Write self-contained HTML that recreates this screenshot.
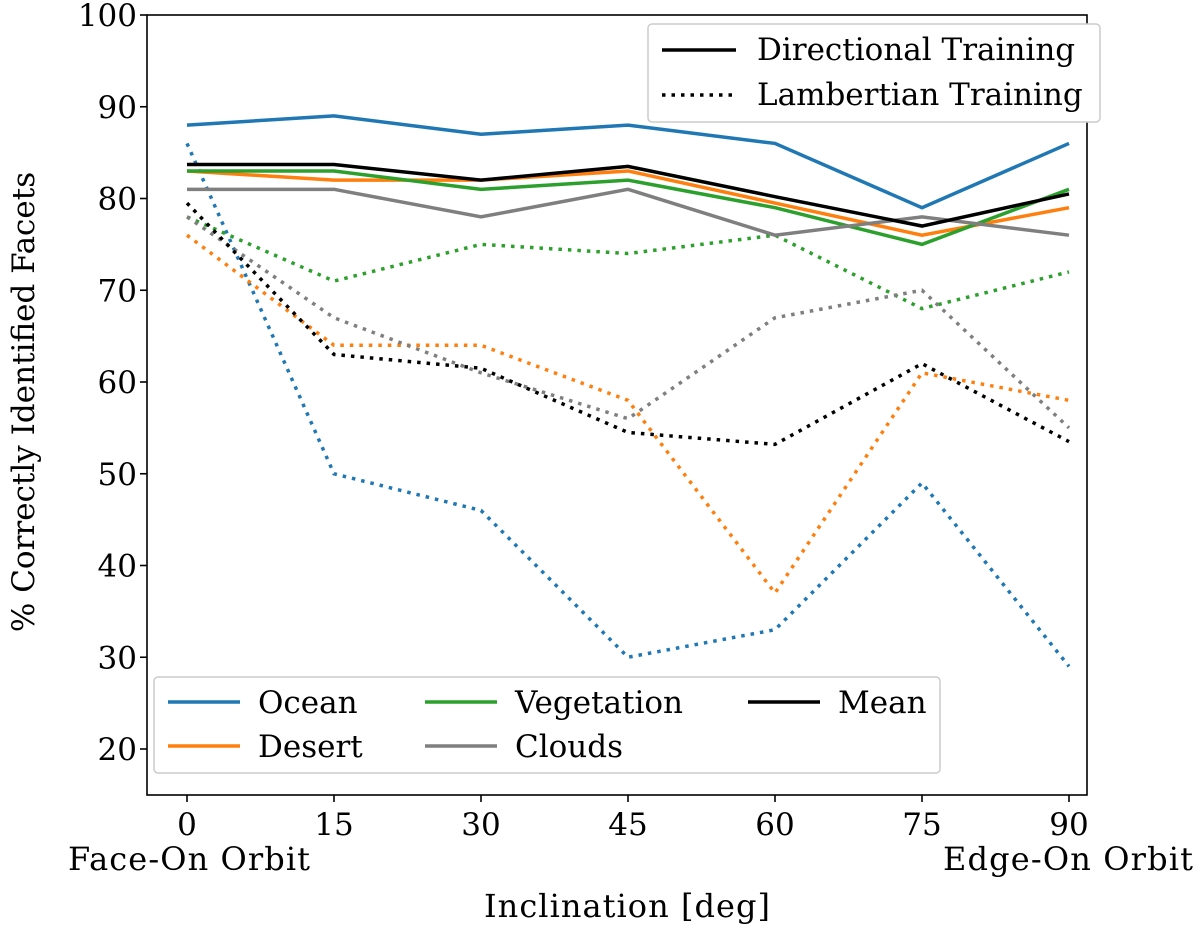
<!DOCTYPE html>
<html><head><meta charset="utf-8"><style>
body{margin:0;background:#fff}
svg text{font-family:"DejaVu Serif","Liberation Serif",serif;fill:#000}
</style></head><body>
<svg id="chart" width="1200" height="932" xmlns="http://www.w3.org/2000/svg">
<g id="marks"></g>
<g id="axes"></g>
</svg>
<script>
const xCats=[0,15,30,45,60,75,90];
const yTicks=[20,30,40,50,60,70,80,90,100];
const names=["Ocean","Desert","Vegetation","Clouds","Mean"];
const colors=["#1f77b4","#ff7f0e","#2ca02c","#7f7f7f","#000000"];
const oceanDir=[88,89,87,88,86,79,86];
const desertDir=[83,82,82,83,79.5,76,79];
const vegDir=[83,83,81,82,79,75,81];
const cloudsDir=[81,81,78,81,76,78,76];
const meanDir=[83.7,83.7,82,83.5,80.2,77,80.5];
const oceanLam=[86,50,46,30,33,49,29];
const desertLam=[76,64,64,58,37,61,58];
const vegLam=[78,71,75,74,76,68,72];
const cloudsLam=[78,67,61,56,67,70,55];
const meanLam=[79.5,63,61.5,54.5,53.2,62,53.5];

const NS="http://www.w3.org/2000/svg";
const L=147,R=1087,T=15,B=795;
const xs=v=>187+(v-0)*(1069-187)/90;
const ys=v=>15+(100-v)*(749-15)/80;
function mk(tag,attrs,parent){const e=document.createElementNS(NS,tag);for(const k in attrs)e.setAttribute(k,attrs[k]);parent.appendChild(e);return e;}
const marks=document.getElementById('marks'),axes=document.getElementById('axes');
const dirs=[oceanDir,desertDir,vegDir,cloudsDir,meanDir];
const lams=[oceanLam,desertLam,vegLam,cloudsLam,meanLam];
const FS=31;
lams.forEach((s,i)=>{
 const p=mk('polyline',{points:s.map((v,j)=>xs(xCats[j])+','+ys(v)).join(' '),fill:'none',stroke:colors[i],'stroke-width':3.5,'stroke-dasharray':'3.5,6'},marks);
 
 
});
dirs.forEach((s,i)=>{
 const p=mk('polyline',{points:s.map((v,j)=>xs(xCats[j])+','+ys(v)).join(' '),fill:'none',stroke:colors[i],'stroke-width':3.5},marks);
 
 
});
const fr=mk('rect',{x:L,y:T,width:R-L,height:B-T,fill:'none',stroke:'#000','stroke-width':1.6},axes);


xCats.forEach(v=>{
 mk('line',{x1:xs(v),x2:xs(v),y1:B,y2:B+7,stroke:'#000','stroke-width':1.6},axes);
 const t=mk('text',{x:xs(v),y:B+40,'text-anchor':'middle','font-size':FS},axes);t.textContent=v;
 
 
});
yTicks.forEach(v=>{
 mk('line',{x1:L-7,x2:L,y1:ys(v),y2:ys(v),stroke:'#000','stroke-width':1.6},axes);
 const t=mk('text',{x:L-10,y:ys(v)+11,'text-anchor':'end','font-size':FS},axes);t.textContent=v;
 
 
});
function txt(x,y,s,anchor,name,extra){const t=mk('text',Object.assign({x:x,y:y,'text-anchor':anchor,'font-size':FS},extra||{}),axes);t.textContent=s;return t;}
txt(189,870,'Face-On Orbit','middle','face-on-label',{'font-size':32,textLength:242});
txt(1068,870,'Edge-On Orbit','middle','edge-on-label',{'font-size':32,textLength:250});
txt(627,917,'Inclination [deg]','middle','x-axis-title',{'font-size':32,textLength:286});
txt(34,402,'% Correctly Identified Facets','middle','y-axis-title',{transform:'rotate(-90 34 402)'});
const lg1=mk('g',{},axes);
mk('rect',{x:648,y:24,width:452,height:98,rx:4,fill:'#fff',stroke:'#ccc','stroke-width':1.5},lg1);
mk('line',{x1:662,x2:736,y1:50,y2:50,stroke:'#000','stroke-width':3.5},lg1);
mk('line',{x1:662,x2:736,y1:95,y2:95,stroke:'#000','stroke-width':3.5,'stroke-dasharray':'3.5,6'},lg1);
txt(757,60,'Directional Training','start','legend-directional');
txt(757,105,'Lambertian Training','start','legend-lambertian');
const lg2=mk('g',{},axes);
mk('rect',{x:154,y:677,width:786,height:96,rx:4,fill:'#fff',stroke:'#ccc','stroke-width':1.5},lg2);
const pos=[[168,702],[168,746],[425,702],[425,746],[748,702]];
names.forEach((n,i)=>{
 mk('line',{x1:pos[i][0],x2:pos[i][0]+72,y1:pos[i][1],y2:pos[i][1],stroke:colors[i],'stroke-width':3.5},lg2);
 txt(pos[i][0]+90,pos[i][1]+11,n,'start','legend-'+n.toLowerCase());
});
</script>
</body></html>
